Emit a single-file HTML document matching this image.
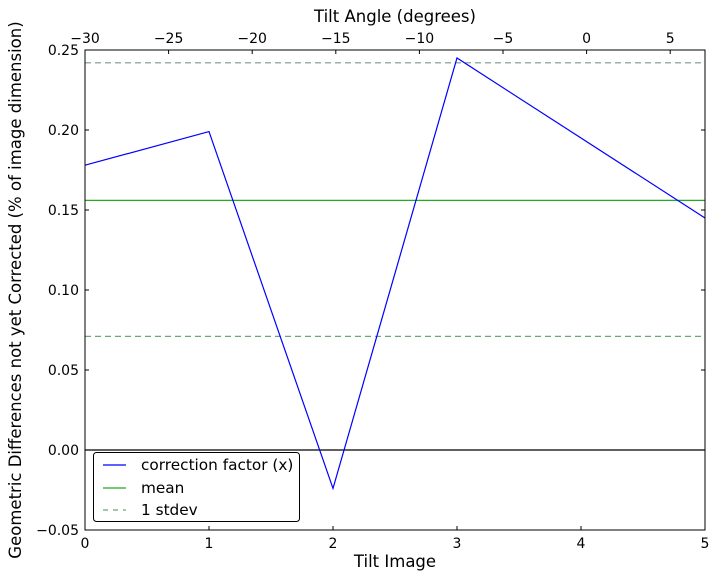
<!DOCTYPE html>
<html><head><style>body{margin:0;background:#fff}svg text{font-family:"DejaVu Sans",sans-serif;fill:#000}</style></head><body>
<svg width="719" height="579" viewBox="0 0 719 579">
<rect width="719" height="579" fill="#fff"/>
<g stroke-width="1.2">
<line x1="85" y1="62.8" x2="705" y2="62.8" stroke="#7a9a8a" stroke-dasharray="6,4"/>
<line x1="85" y1="336.4" x2="705" y2="336.4" stroke="#6aa87a" stroke-dasharray="6,4"/>
<line x1="85" y1="200.4" x2="705" y2="200.4" stroke="#22aa22"/>
<line x1="85" y1="450" x2="705" y2="450" stroke="#000"/>
<polyline points="85,165.2 209,131.6 333,488.4 457,58 705,218" fill="none" stroke="#0000ff"/>
</g>
<rect x="85" y="50" width="620" height="480" fill="none" stroke="#000" stroke-width="1"/>
<g stroke="#000">
<line x1="85" y1="130" x2="89" y2="130"/><line x1="85" y1="210" x2="89" y2="210"/><line x1="85" y1="290" x2="89" y2="290"/><line x1="85" y1="370" x2="89" y2="370"/><line x1="85" y1="450" x2="89" y2="450"/>
<line x1="705" y1="130" x2="701" y2="130"/><line x1="705" y1="210" x2="701" y2="210"/><line x1="705" y1="290" x2="701" y2="290"/><line x1="705" y1="370" x2="701" y2="370"/><line x1="705" y1="450" x2="701" y2="450"/>
<line x1="209" y1="530" x2="209" y2="526"/><line x1="333" y1="530" x2="333" y2="526"/><line x1="457" y1="530" x2="457" y2="526"/><line x1="581" y1="530" x2="581" y2="526"/>
<line x1="168.6" y1="50" x2="168.6" y2="54"/><line x1="252.2" y1="50" x2="252.2" y2="54"/><line x1="335.8" y1="50" x2="335.8" y2="54"/><line x1="419.4" y1="50" x2="419.4" y2="54"/><line x1="503" y1="50" x2="503" y2="54"/><line x1="586.6" y1="50" x2="586.6" y2="54"/><line x1="670.2" y1="50" x2="670.2" y2="54"/>
</g>
<g font-size="14" text-anchor="end">
<text x="79" y="55">0.25</text><text x="79" y="135">0.20</text><text x="79" y="215">0.15</text><text x="79" y="295">0.10</text><text x="79" y="375">0.05</text><text x="79" y="455">0.00</text><text x="79" y="535">−0.05</text>
</g>
<g font-size="14" text-anchor="middle">
<text x="85" y="548">0</text><text x="209" y="548">1</text><text x="333" y="548">2</text><text x="457" y="548">3</text><text x="581" y="548">4</text><text x="705" y="548">5</text>
<text x="85" y="43">−30</text><text x="168.6" y="43">−25</text><text x="252.2" y="43">−20</text><text x="335.8" y="43">−15</text><text x="419.4" y="43">−10</text><text x="503" y="43">−5</text><text x="586.6" y="43">0</text><text x="670.2" y="43">5</text>
<text x="395" y="567" font-size="16.5">Tilt Image</text>
<text x="395" y="22" font-size="16.5">Tilt Angle (degrees)</text>
<text transform="translate(21,290) rotate(-90)" font-size="16.5">Geometric Differences not yet Corrected (% of image dimension)</text>
</g>
<rect x="93.5" y="452.5" width="206" height="69" rx="3" fill="#fff" stroke="#000"/>
<line x1="103" y1="465" x2="126" y2="465" stroke="#0000ff" stroke-width="1.2"/>
<line x1="103" y1="488" x2="126" y2="488" stroke="#22aa22" stroke-width="1.2"/>
<line x1="103" y1="510" x2="126" y2="510" stroke="#6aa87a" stroke-width="1.2" stroke-dasharray="5,5"/>
<g font-size="15.3"><text x="141" y="470">correction factor (x)</text><text x="141" y="493">mean</text><text x="141" y="515">1 stdev</text></g>
</svg>
</body></html>
